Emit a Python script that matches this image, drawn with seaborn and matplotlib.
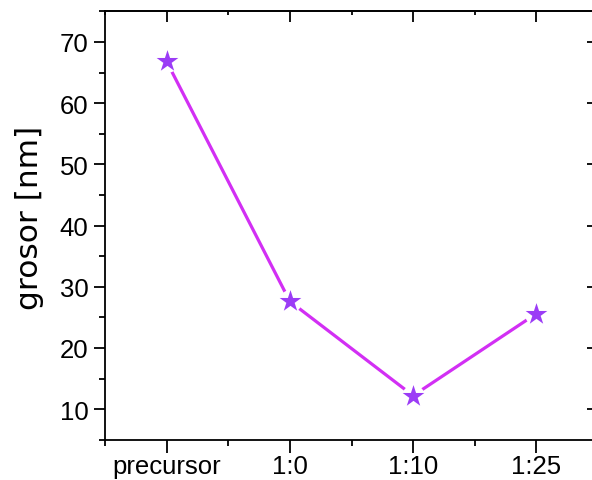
import matplotlib
matplotlib.use('Agg')
import matplotlib.pyplot as plt
import seaborn as sns
import pandas as pd
from matplotlib.ticker import MultipleLocator, FixedLocator

categories = ['precursor', '1:0', '1:10', '1:25']
grosor = [66.8, 27.6, 12.2, 25.6]
y_ticks = [10, 20, 30, 40, 50, 60, 70]

sns.set_theme(style='ticks')
plt.rcParams['font.family'] = ['Liberation Sans', 'DejaVu Sans']

df = pd.DataFrame({'pos': list(range(len(categories))), 'grosor': grosor})

W, H = 592, 481
fig = plt.figure(figsize=(W / 100, H / 100), dpi=100)
ax = fig.add_axes([105 / W, 40.3 / H, (598 - 105) / W, (468.7 - 40.3) / H])

line_c = '#D22FF4'
mark_c = '#9B3CF6'

sns.lineplot(data=df, x='pos', y='grosor', ax=ax, color=line_c, linewidth=2.3, zorder=2)
sns.scatterplot(data=df, x='pos', y='grosor', ax=ax, marker='o', s=270,
                color='white', linewidth=0, zorder=3)
sns.scatterplot(data=df, x='pos', y='grosor', ax=ax, marker='*', s=270,
                color=mark_c, linewidth=0, zorder=4)

ax.set_xlim(-0.5, 3.5)
ax.set_ylim(5, 75)
ax.set_xticks(list(range(len(categories))))
ax.set_xticklabels(categories)
ax.xaxis.set_minor_locator(MultipleLocator(0.5))
ax.yaxis.set_major_locator(FixedLocator(y_ticks))
ax.yaxis.set_minor_locator(MultipleLocator(5))
ax.set_xlabel('')
ax.set_ylabel('grosor [nm]', fontsize=22.5, family=['DejaVu Sans'], color='black')
ax.yaxis.set_label_coords(-0.124, 0.519)

for s in ax.spines.values():
    s.set_linewidth(1.3)
    s.set_color('black')

ax.tick_params(axis='both', which='major', direction='out', length=8, width=1.3,
               labelsize=18.5, colors='black', pad=4)
ax.tick_params(axis='both', which='minor', direction='out', length=4.5, width=1.3,
               colors='black')
ax.tick_params(axis='x', which='major', length=9, pad=1)

sec_x = ax.secondary_xaxis('top')
sec_x.set_xticks(list(range(len(categories))))
sec_x.xaxis.set_minor_locator(MultipleLocator(0.5))
sec_x.tick_params(axis='x', which='major', direction='in', length=8, width=1.3,
                  labeltop=False, labelbottom=False, colors='black')
sec_x.tick_params(axis='x', which='minor', direction='in', length=3, width=1.3,
                  colors='black')
for s in sec_x.spines.values():
    s.set_linewidth(1.3)

sec_y = ax.secondary_yaxis('right')
sec_y.yaxis.set_major_locator(FixedLocator(y_ticks))
sec_y.yaxis.set_minor_locator(MultipleLocator(5))
sec_y.tick_params(axis='y', which='major', direction='in', length=8, width=1.3,
                  labelright=False, labelleft=False, colors='black')
sec_y.tick_params(axis='y', which='minor', direction='in', length=3, width=1.3,
                  colors='black')
for s in sec_y.spines.values():
    s.set_linewidth(1.3)

fig.savefig('out.png', dpi=100, facecolor='white')
